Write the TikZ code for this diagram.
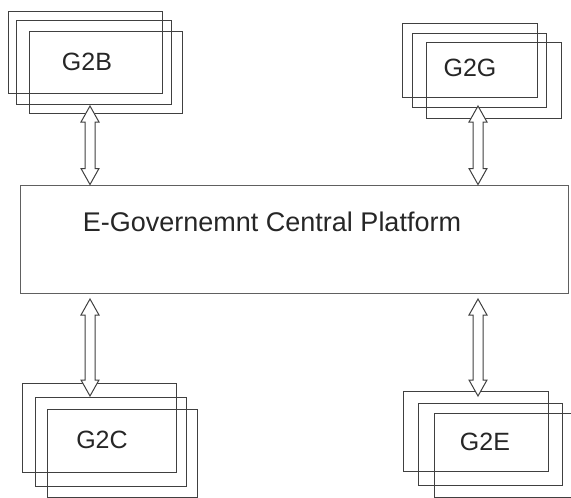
\documentclass[tikz,border=0pt]{standalone}
\usepackage{fontspec}
\setmainfont{Liberation Sans}
\usetikzlibrary{calc}
\definecolor{linec}{HTML}{404040}
\definecolor{mainc}{HTML}{606060}
\tikzset{
  frame/.style={draw=linec, line width=1pt, inner sep=0pt, fill=none},
  lbl/.style={font=\fontsize{25}{28}\selectfont, text=black!85, inner sep=0pt},
  mainlbl/.style={font=\fontsize{27}{30}\selectfont, text=black!85, inner sep=0pt},
  arr/.style={draw=linec, line width=1pt, fill=white, line join=miter}
}
\newcommand\hollowarrow[2]{%
  \draw[arr] let \p1=(#1), \p2=(#2) in
    (\x1,\y1) -- (\x1+9pt,\y1-16pt) -- (\x1+5pt,\y1-16pt) -- (\x1+5pt,\y2+16pt)
    -- (\x1+9pt,\y2+16pt) -- (\x1,\y2) -- (\x1-9pt,\y2+16pt) -- (\x1-5pt,\y2+16pt)
    -- (\x1-5pt,\y1-16pt) -- (\x1-9pt,\y1-16pt) -- cycle;}
\begin{document}
\begin{tikzpicture}[x=1pt,y=-1pt]
\useasboundingbox (0,0) rectangle (571,498);
% G2B stack
\node[frame, minimum width=154pt, minimum height=82pt] (b1) at (85,52) {};
\node[frame, minimum width=155pt, minimum height=84pt] (b2) at (93.5,62) {};
\node[frame, minimum width=153pt, minimum height=82pt] (b3) at (105.5,72) {};
\node[lbl] (tb) at (87,62) {G2B};
% G2G stack
\node[frame, minimum width=135pt, minimum height=74pt] (g1) at (469.5,60) {};
\node[frame, minimum width=134pt, minimum height=74pt] (g2) at (479,70) {};
\node[frame, minimum width=135pt, minimum height=76pt] (g3) at (493.5,80) {};
\node[lbl] (tg) at (470,68) {G2G};
% G2C stack
\node[frame, minimum width=154pt, minimum height=89pt] (c1) at (99,427.5) {};
\node[frame, minimum width=151pt, minimum height=89pt] (c2) at (110.5,441.5) {};
\node[frame, minimum width=150pt, minimum height=88pt] (c3) at (122,453) {};
\node[lbl] (tc) at (102,440) {G2C};
% G2E stack
\node[frame, minimum width=145pt, minimum height=80pt] (e1) at (475.5,431) {};
\node[frame, minimum width=144pt, minimum height=82pt] (e2) at (490,444) {};
\node[frame, minimum width=141pt, minimum height=84pt] (e3) at (504.5,455) {};
\node[lbl] (te) at (485,442) {G2E};
% main platform
\node[draw=mainc, line width=1pt, inner sep=0pt, minimum width=548pt, minimum height=108pt] (main) at (294,239) {};
\node[mainlbl] (mt) at (272,222) {E-Governemnt Central Platform};
% arrow end points
\coordinate (a1t) at (90,106);
\coordinate (a1b) at (main.north -| a1t);
\coordinate (a2t) at (478,106);
\coordinate (a2b) at (main.north -| a2t);
\coordinate (a3t) at (90,299);
\coordinate (a3b) at (90,396);
\coordinate (a4t) at (478,299);
\coordinate (a4b) at (478,396);
\hollowarrow{a1t}{a1b}
\hollowarrow{a2t}{a2b}
\hollowarrow{a3t}{a3b}
\hollowarrow{a4t}{a4b}
\end{tikzpicture}
\end{document}
